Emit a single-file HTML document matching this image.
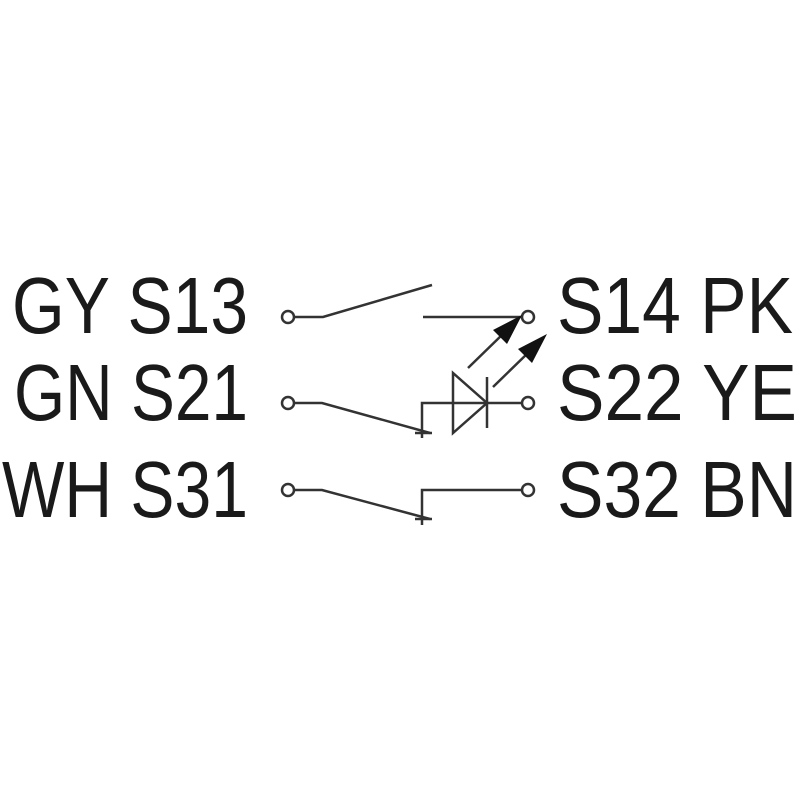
<!DOCTYPE html>
<html><head><style>html,body{margin:0;padding:0;background:#fff}</style></head>
<body>
<svg width="800" height="800" viewBox="0 0 800 800" xmlns="http://www.w3.org/2000/svg">
<g font-family="Liberation Sans, sans-serif" font-size="80" fill="#1a1a1a">
<text x="12" y="333" textLength="236" lengthAdjust="spacingAndGlyphs">GY S13</text>
<text x="14" y="420" textLength="234" lengthAdjust="spacingAndGlyphs">GN S21</text>
<text x="2" y="517" textLength="246" lengthAdjust="spacingAndGlyphs">WH S31</text>
<text x="557" y="333" textLength="236" lengthAdjust="spacingAndGlyphs">S14 PK</text>
<text x="557" y="420" textLength="240" lengthAdjust="spacingAndGlyphs">S22 YE</text>
<text x="557" y="517" textLength="240" lengthAdjust="spacingAndGlyphs">S32 BN</text>
</g>
<g stroke="#333" stroke-width="2.5" fill="none">
<polyline points="293,317 323,317 432,285"/>
<line x1="423" y1="317" x2="522" y2="317"/>
<polyline points="293,403 322,403 430,433"/>
<polyline points="422,438 422,403 522,403"/>
<line x1="415" y1="433" x2="432" y2="433"/>
<polyline points="293,490 322,490 430,519"/>
<polyline points="422,525 422,490 522,490"/>
<line x1="415" y1="519" x2="432" y2="519"/>
<polygon points="453,373 453,433 487,403"/>
<line x1="487" y1="377" x2="487" y2="428"/>
<line x1="468" y1="368" x2="505" y2="332"/>
<line x1="493" y1="387" x2="530" y2="351"/>
<circle cx="528" cy="317" r="6"/>
<circle cx="528" cy="403" r="6"/>
<circle cx="528" cy="490" r="6"/>
<circle cx="288" cy="317" r="6"/>
<circle cx="288" cy="403" r="6"/>
<circle cx="288" cy="490" r="6"/>
</g>
<polygon points="522,315 493,330 507,344" fill="#111"/>
<polygon points="547,334 518,349 532,363" fill="#111"/>
</svg>
</body></html>
